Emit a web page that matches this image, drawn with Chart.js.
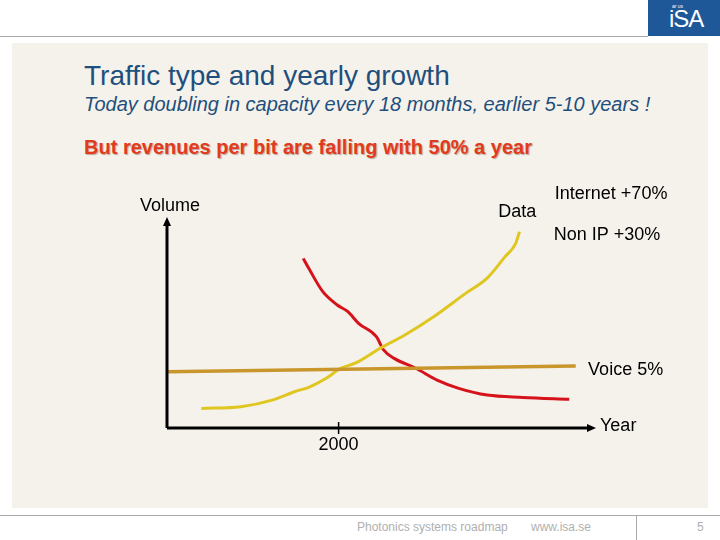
<!DOCTYPE html>
<html>
<head>
<meta charset="utf-8">
<script src="https://cdn.jsdelivr.net/npm/chart.js@4.4.0/dist/chart.umd.min.js"></script>
<style>
  body { margin: 0; width: 720px; height: 540px; background: #fff; position: relative; overflow: hidden;
         font-family: "Liberation Sans", Arial, sans-serif; }
  .topline { position: absolute; left: 0; top: 36px; width: 648px; height: 1px; background: #a9a9a9; }
  .logo { position: absolute; left: 648px; top: 0; width: 72px; height: 36px; background: #1e5898; color: #fff; }
  .logo .small { position: absolute; left: 24px; top: 3px; font-size: 5px; }
  .logo .big { position: absolute; left: 21px; top: 5px; font-size: 24px; letter-spacing: -1px; }
  .panel { position: absolute; left: 12px; top: 43px; width: 696px; height: 465px; background: #f5f2ec; }
  .title { position: absolute; left: 84px; top: 60px; font-size: 28px; color: #1f4f7c; }
  .sub { position: absolute; left: 84px; top: 93px; font-size: 20px; font-style: italic; color: #1f4f7c; }
  .red { position: absolute; left: 84px; top: 136px; font-size: 20px; font-weight: bold; color: #e23a1c;
         text-shadow: 1px 1px 1px #b9a89a; }
  .footline { position: absolute; left: 0; top: 515px; width: 720px; height: 1px; background: #a9a9a9; }
  .footv { position: absolute; left: 636px; top: 515px; width: 1px; height: 25px; background: #a9a9a9; }
  .foot { position: absolute; top: 520px; font-size: 12px; color: #b0b0b0; }
  #chart { position: absolute; left: 0; top: 0; }
</style>
</head>
<body>
<div class="topline"></div>
<div class="logo"><span class="small">ar us</span><span class="big">iSA</span></div>
<div class="panel"></div>
<div class="title">Traffic type and yearly growth</div>
<div class="sub">Today doubling in capacity every 18 months, earlier 5-10 years !</div>
<div class="red">But revenues per bit are falling with 50% a year</div>
<div class="footline"></div>
<div class="footv"></div>
<div class="foot" style="left:357px">Photonics systems roadmap</div>
<div class="foot" style="left:531px">www.isa.se</div>
<div class="foot" style="left:697px">5</div>
<canvas id="chart" width="720" height="540"></canvas>
<script>
// Data curve (yellow)
const dataX = [1996.0, 1997.15, 1998.09, 1998.71, 1999.13, 1999.64, 2000.06, 2000.48, 2001.21, 2001.93, 2002.77, 2003.7, 2004.32, 2004.85, 2005.16, 2005.27];
const dataY = [9.3, 10.1, 13.3, 17.2, 19.3, 23.6, 28.3, 30.7, 37.8, 44.1, 52.7, 63.8, 70.9, 81.2, 87.5, 93.0];
// Revenue per bit (red)
const revX = [1998.97, 1999.13, 1999.54, 1999.96, 2000.27, 2000.58, 2001.1, 2001.31, 2001.62, 2002.25, 2002.87, 2003.5, 2004.33, 2005.37, 2006.72];
const revY = [80.4, 75.7, 64.6, 58.3, 55.1, 49.6, 43.3, 37.0, 33.0, 28.3, 22.7, 18.8, 15.6, 14.5, 13.6];
// Voice (gold)
const voiceX = [1995.0, 2006.91];
const voiceY = [26.7, 29.4];
const tickYears = [2000];

function pts(xs, ys) {
    return xs.map((x, i) => ({ x: x, y: ys[i] }));
}

// Axes with arrows, tick and labels
const axesPlugin = {
    id: 'axes',
    afterDatasetsDraw(chart) {
        const c = chart.ctx;
        const sx = chart.scales.x, sy = chart.scales.y;
        const x0 = sx.getPixelForValue(1995), y0 = sy.getPixelForValue(0);
        const yTop = sy.getPixelForValue(100), xEnd = sx.getPixelForValue(2007.5);
        c.save();
        c.strokeStyle = '#000';
        c.fillStyle = '#000';
        c.lineWidth = 3;
        c.beginPath();
        c.moveTo(x0, y0); c.lineTo(x0, yTop + 6);
        c.moveTo(x0, y0); c.lineTo(xEnd - 6, y0);
        c.stroke();
        // arrow heads
        c.beginPath();
        c.moveTo(x0, yTop); c.lineTo(x0 - 4, yTop + 9); c.lineTo(x0 + 4, yTop + 9); c.closePath();
        c.moveTo(xEnd, y0); c.lineTo(xEnd - 9, y0 - 4); c.lineTo(xEnd - 9, y0 + 4); c.closePath();
        c.fill();
        // ticks
        c.lineWidth = 1.5;
        c.font = '18px "Liberation Sans", Arial, sans-serif';
        c.textAlign = 'center';
        c.textBaseline = 'middle';
        tickYears.forEach(t => {
            const px = sx.getPixelForValue(t);
            c.beginPath(); c.moveTo(px, y0 - 6); c.lineTo(px, y0 + 6); c.stroke();
            c.fillText(String(t), px, y0 + 17);
        });
        c.textAlign = 'left';
        c.fillText('Volume', x0 - 27, yTop - 11);
        c.fillText('Year', xEnd + 4, y0 - 2);
        c.fillText('Voice 5%', sx.getPixelForValue(2007.27), sy.getPixelForValue(27.7));
        c.fillText('Data', sx.getPixelForValue(2004.65), sy.getPixelForValue(102.5));
        c.fillText('Internet +70%', sx.getPixelForValue(2006.3), sy.getPixelForValue(111));
        c.fillText('Non IP +30%', sx.getPixelForValue(2006.27), sy.getPixelForValue(91.5));
        c.restore();
    }
};

new Chart(document.getElementById('chart'), {
    type: 'line',
    data: {
        datasets: [
            { label: 'Voice', data: pts(voiceX, voiceY), borderColor: '#c9962b', borderWidth: 3.5 },
            { label: 'Data', data: pts(dataX, dataY), borderColor: '#e0c620', borderWidth: 3 },
            { label: 'Revenue', data: pts(revX, revY), borderColor: '#d6121b', borderWidth: 3 }
        ]
    },
    options: {
        responsive: false,
        animation: false,
        layout: { padding: { left: 167, right: 124, top: 217, bottom: 112 } },
        elements: { point: { radius: 0 }, line: { tension: 0.4, cubicInterpolationMode: 'monotone' } },
        plugins: { legend: { display: false }, tooltip: { enabled: false } },
        scales: {
            x: { type: 'linear', min: 1995, max: 2007.5, display: false },
            y: { min: 0, max: 100, display: false }
        }
    },
    plugins: [axesPlugin]
});
</script>
</body>
</html>
